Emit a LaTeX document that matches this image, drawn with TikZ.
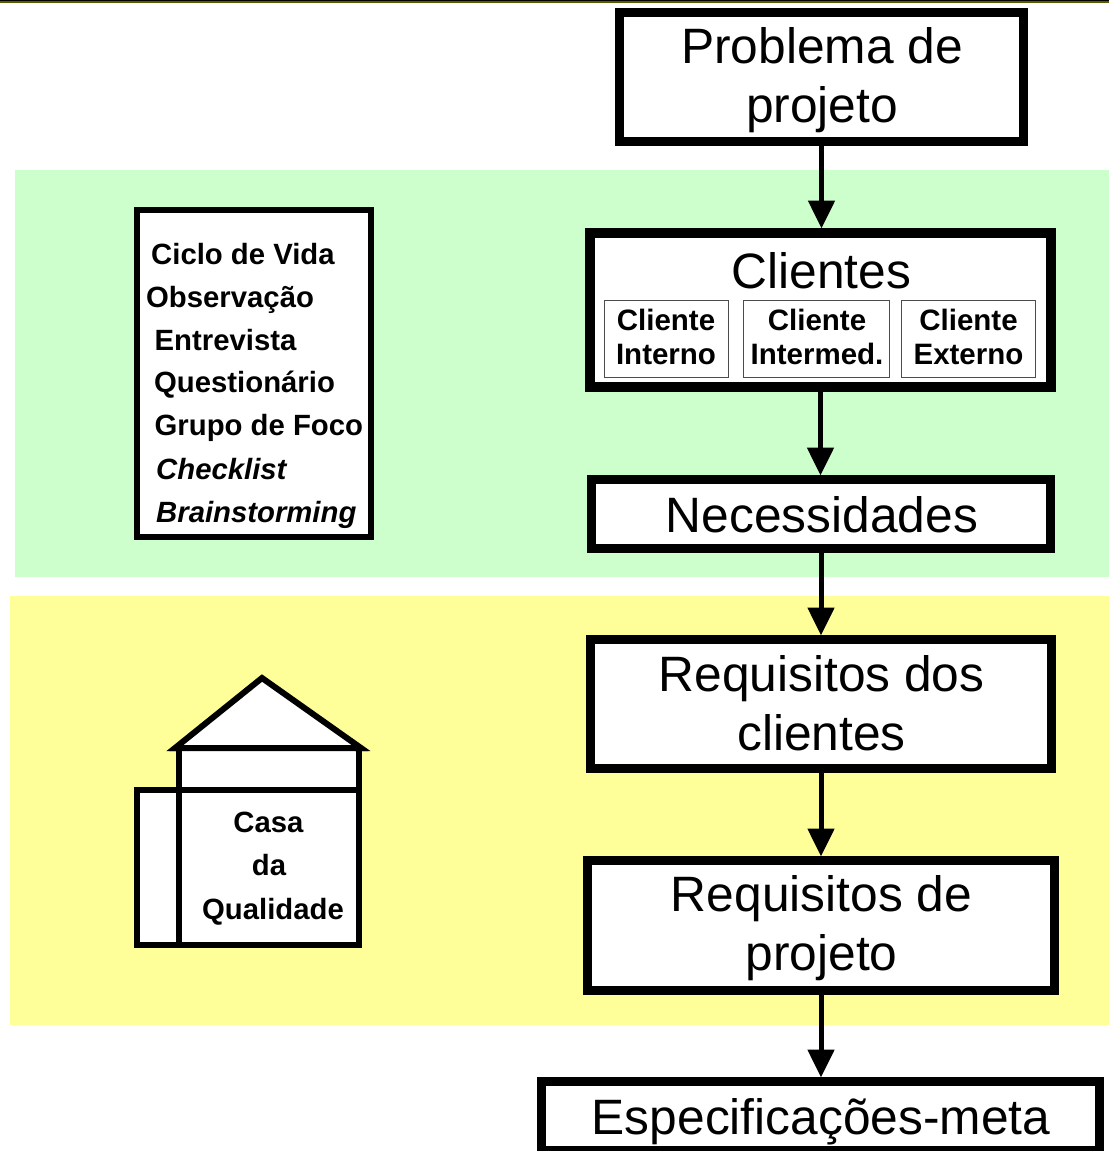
\documentclass[tikz,border=0pt]{standalone}
\usepackage{fontspec}
\setmainfont{Liberation Sans}
\usetikzlibrary{arrows.meta}
\definecolor{bandgreen}{HTML}{CCFFCC}
\definecolor{bandyellow}{HTML}{FFFF99}
\definecolor{topline}{HTML}{5A5A00}
\tikzset{
  x=1pt,y=-1pt,
  flowbox/.style={draw=black,fill=white,line width=9pt,inner sep=0pt},
  flowtext/.style={inner sep=0pt,align=center,font=\fontsize{49.7}{59}\selectfont},
  subbox/.style={draw=black!70,fill=white,line width=1pt,minimum height=77pt},
  subtext/.style={inner sep=0pt,align=center,font=\fontsize{29.5}{34}\selectfont\bfseries},
  listitem/.style={anchor=base west,inner sep=0pt,font=\fontsize{29.3}{34}\selectfont\bfseries},
  flowarrow/.style={line width=5pt,-{Triangle[length=28pt,width=26pt]},shorten >=-0.5pt},
  houseline/.style={draw=black,line width=6pt,fill=white,miter limit=10},
}
\begin{document}
\begin{tikzpicture}
\useasboundingbox (0,0) rectangle (1109,1151);
\clip (0,0) rectangle (1109,1151);
\fill[white] (0,0) rectangle (1109,1151);
\fill[black] (0,0) rectangle (1109,1);
\fill[topline] (0,1) rectangle (1109,2.5);
\fill[bandgreen] (15,170) rectangle (1109,577);
\fill[bandyellow] (10,596) rectangle (1109,1025);

% flow boxes
\node[flowbox,minimum width=404pt,minimum height=129pt] (problema) at (821.5,77) {};
\node[flowtext] (problematext) at (822,80) {Problema de\\projeto};
\node[flowbox,line width=10pt,minimum width=461pt,minimum height=154pt] (clientes) at (820.5,310) {};
\node[flowtext] (clientestitle) at (821.5,271) {Clientes};
\node[subbox,inner sep=0pt,minimum width=124pt] (interno) at (666,338.5) {};
\node[subtext] (internotext) at (666,336.5) {Cliente\\Interno};
\node[subbox,inner sep=0pt,minimum width=146pt] (intermed) at (816,338.5) {};
\node[subtext] (intermedtext) at (817,336.5) {Cliente\\Intermed.};
\node[subbox,inner sep=0pt,minimum width=134pt] (externo) at (968,338.5) {};
\node[subtext] (externotext) at (968.5,336.5) {Cliente\\Externo};
\node[flowbox,minimum width=459pt,minimum height=69pt] (necessidades) at (821,514) {};
\node[flowtext] (necessidadestext) at (822,515) {Necessidades};
\node[flowbox,minimum width=461pt,minimum height=129pt] (reqclientes) at (821,704) {};
\node[flowtext] (reqclientestext) at (821.5,703) {Requisitos dos\\clientes};
\node[flowbox,minimum width=467pt,minimum height=130pt] (reqprojeto) at (821,925.5) {};
\node[flowtext] (reqprojetotext) at (821.5,928.5) {Requisitos de\\projeto};
\node[flowbox,minimum width=558pt,minimum height=69pt] (especificacoes) at (820.5,1116) {};
\node[flowtext] (especificacoestext) at (821,1121.5) {Especificações-meta};

% connectors
\draw[flowarrow] (problema.south) -- (problema.south |- clientes.north);
\draw[flowarrow] (clientes.south) -- (clientes.south |- necessidades.north);
\draw[flowarrow] (necessidades.south) -- (necessidades.south |- reqclientes.north);
\draw[flowarrow] (reqclientes.south) -- (reqclientes.south |- reqprojeto.north);
\draw[flowarrow] (reqprojeto.south) -- (reqprojeto.south |- especificacoes.north);

% method list
\node[draw=black,fill=white,line width=6pt,minimum width=234pt,minimum height=327pt,inner sep=0pt] (listbox) at (254,373.5) {};
\node[listitem] (ciclo) at (151,264) {Ciclo de Vida};
\node[listitem] (observacao) at (146,307) {Observação};
\node[listitem] (entrevista) at (154.5,350) {Entrevista};
\node[listitem] (questionario) at (154,392) {Questionário};
\node[listitem] (grupo) at (154.5,435) {Grupo de Foco};
\node[listitem] (checklist) at (156,479) {\itshape Checklist};
\node[listitem] (brainstorming) at (156,522) {\itshape Brainstorming};

% house of quality
\draw[houseline] (179,748) rectangle (359,790);
\draw[houseline] (137,790) rectangle (359,945);
\draw[houseline] (179,790) -- (179,948);
\draw[houseline] (262,678) -- (175,748) -- (361,748) -- cycle;
\fill[black] (169,751) -- (182,741) -- (182,751) -- cycle;
\fill[black] (368,751) -- (355,741) -- (355,751) -- cycle;
\node[listitem,anchor=base] (casa) at (268.5,832) {Casa};
\node[listitem,anchor=base] (da) at (269,875) {da};
\node[listitem,anchor=base] (qualidade) at (273,919) {Qualidade};
\end{tikzpicture}
\end{document}
